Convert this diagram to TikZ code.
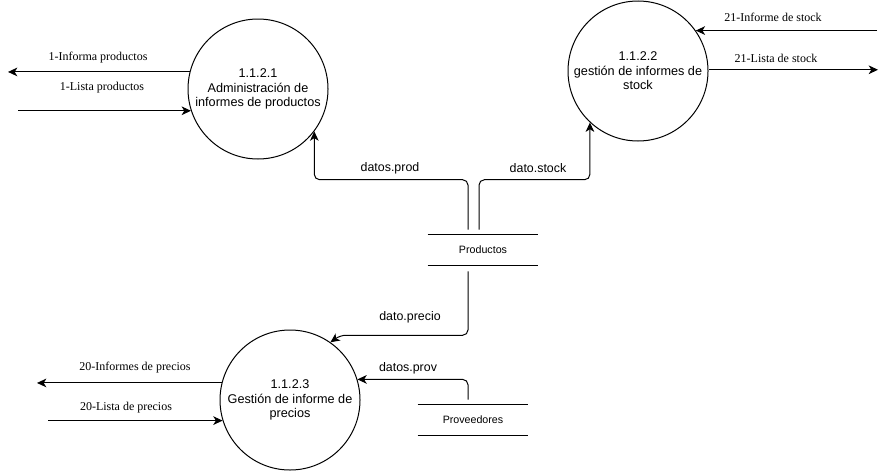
\documentclass[tikz,border=0pt]{standalone}
\usepackage{fontspec}
\setmainfont{Liberation Serif}
\setsansfont{Liberation Sans}
\usetikzlibrary{arrows.meta}
\begin{document}
\begin{tikzpicture}[x=0.75pt,y=-0.75pt,
  proc/.style={circle,draw,line width=0.75pt,minimum size=105pt,inner sep=0pt,align=center,
    font=\sffamily\fontsize{9.5}{10.9}\selectfont},
  flow/.style={line width=0.75pt,-{Stealth[length=7pt,width=6.5pt,inset=2pt]}},
  serlab/.style={font=\rmfamily\fontsize{9}{11}\selectfont,inner sep=0pt},
  sanlab/.style={font=\sffamily\fontsize{9.3}{11}\selectfont,inner sep=0pt},
  storebox/.style={minimum width=82.5pt,minimum height=22.5pt,inner sep=0pt,
    font=\sffamily\fontsize{8}{10}\selectfont},
  rc/.style={rounded corners=4pt}]
\useasboundingbox (0,0) rectangle (887,471);

% processes
\node[proc] (p1) at (258,89) {1.1.2.1\\Administración de\\informes de productos};
\node[proc] (p2) at (638,71) {1.1.2.2\\gestión de informes de\\stock};
\node[proc] (p3) at (290,400) {1.1.2.3\\Gestión de informe de\\precios};

% stores
\node[storebox] (st1) at (483,250) {Productos};
\draw[line width=0.75pt] (st1.north west) -- (st1.north east) (st1.south west) -- (st1.south east);
\node[storebox] (st2) at (473,420) {Proveedores};
\draw[line width=0.75pt] (st2.north west) -- (st2.north east) (st2.south west) -- (st2.south east);

% free ends
\coordinate (e1) at (8,72);
\coordinate (e2) at (18,111);
\coordinate (e3) at (877,30);
\coordinate (e4) at (878,70);
\coordinate (e5) at (37,382);
\coordinate (e6) at (48,421);

% external flows
\draw[flow] (p1.166) -- (e1 |- p1.166);
\node[serlab] (l1) at (98,58) {1-Informa productos};
\draw[flow] (e2 |- p1.198) -- (p1.198);
\node[serlab] (l2) at (102,88) {1-Lista productos};

\draw[flow] (e3 |- p2.35) -- (p2.35);
\node[serlab] (l3) at (773,17) {21-Informe de stock};
\draw[flow] (p2.1) -- (e4 |- p2.1);
\node[serlab] (l4) at (776,58) {21-Lista de stock};

\draw[flow] (p3.166) -- (e5 |- p3.166);
\node[serlab] (l5) at (135,368) {20-Informes de precios};
\draw[flow] (e6 |- p3.197) -- (p3.197);
\node[serlab] (l6) at (126,408) {20-Lista de precios};

% store flows
\draw[flow,rc] ([xshift=-11.25pt,yshift=3.75pt]st1.north) -- ++(0,-50) -| (p1.-37);
\node[sanlab] (l7) at (390,168) {datos.prod};
\draw[flow,rc] ([xshift=-3pt,yshift=3.75pt]st1.north) -- ++(0,-50) -| (p2.-133);
\node[sanlab] (l8) at (538,168) {dato.stock};
\draw[flow,rc] ([xshift=-11.25pt,yshift=-4.5pt]st1.south) |- ([xshift=7.5pt,yshift=5.25pt]p3.55) -- (p3.55);
\node[sanlab] (l9) at (410,317) {dato.precio};
\draw[flow,rc] ([xshift=-3.75pt,yshift=3.75pt]st2.north) |- (p3.17);
\node[sanlab] (l10) at (408,368) {datos.prov};
\end{tikzpicture}
\end{document}
